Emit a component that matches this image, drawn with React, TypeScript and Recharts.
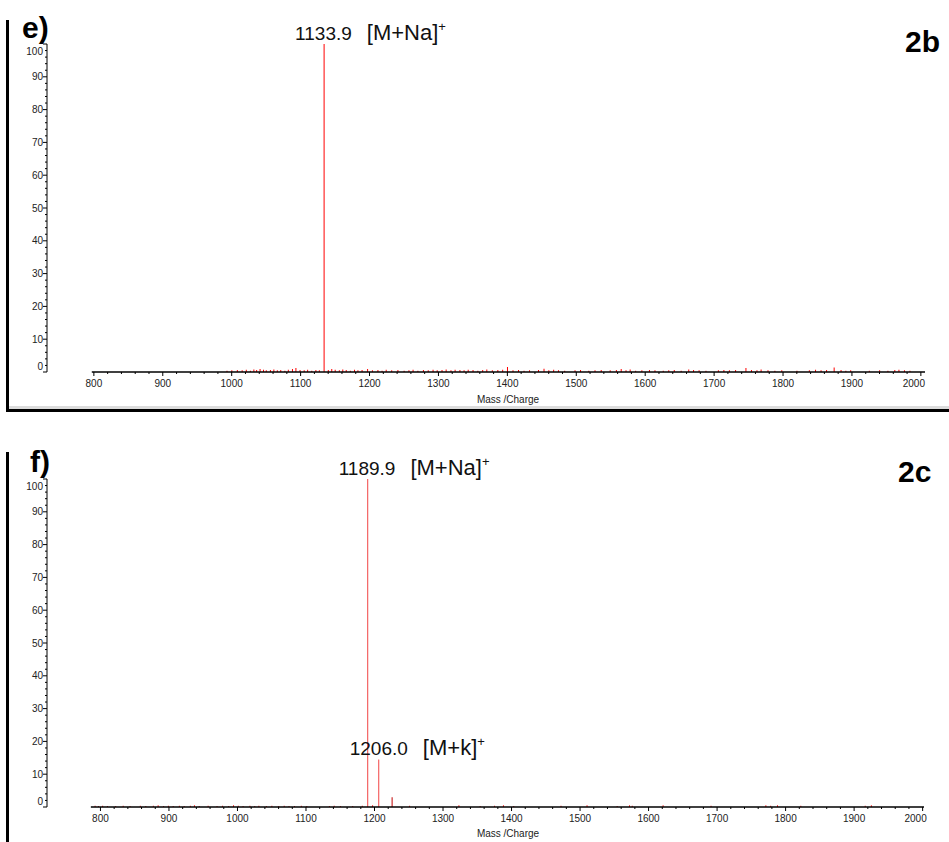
import React from 'react'
import { Bar, BarChart, Cell, LabelList, ReferenceLine, XAxis, YAxis } from 'recharts'

// panel e) compound 2b
const noiseMassE = [
  993, 1000, 1008, 1015, 1021, 1027, 1032, 1036, 1041, 1046, 1050, 1056, 1061, 1066, 1071, 1077, 1082, 1088, 1093, 1099,
  1105, 1110, 1116, 1122, 1127, 1140, 1145, 1150, 1156, 1161, 1166, 1172, 1178, 1183, 1189, 1197, 1204, 1212, 1218, 1224,
  1232, 1241, 1250, 1257, 1263, 1270, 1278, 1285, 1292, 1298, 1305, 1311, 1318, 1324, 1331, 1337, 1343, 1350, 1357, 1364,
  1370, 1378, 1386, 1393, 1400, 1408, 1416, 1424, 1432, 1445, 1453, 1460, 1467, 1474, 1483, 1498, 1506, 1518, 1527, 1536,
  1549, 1558, 1565, 1572, 1578, 1586, 1595, 1606, 1614, 1626, 1634, 1642, 1652, 1663, 1670, 1678, 1688, 1706, 1714, 1722,
  1731, 1746, 1754, 1762, 1768, 1778, 1788, 1798, 1820, 1838, 1847, 1855, 1863, 1874, 1884, 1891, 1898, 1925, 1940, 1952,
  1962, 1968, 1976, 1984,
]
const noiseIntE = [
  0.4, 0.5, 0.6, 0.5, 0.7, 0.4, 0.8, 0.6, 0.9, 0.7, 0.5, 0.6, 0.8, 0.5, 0.6, 0.4, 0.7, 0.9, 1.2, 0.6,
  0.5, 0.7, 0.4, 0.6, 0.5, 0.6, 0.9, 0.7, 0.5, 0.8, 0.6, 0.4, 0.7, 0.5, 0.6, 0.9, 0.5, 0.6, 0.4, 0.7,
  0.5, 0.6, 0.4, 0.5, 0.7, 0.4, 0.6, 0.5, 0.7, 0.5, 0.6, 0.8, 0.5, 0.7, 0.6, 0.5, 0.7, 0.6, 0.4, 0.6,
  0.8, 0.5, 0.6, 0.7, 1.5, 0.5, 0.6, 0.4, 0.5, 0.6, 1.0, 0.5, 0.7, 0.5, 0.4, 0.5, 0.6, 0.4, 0.5, 0.6,
  0.5, 0.6, 0.9, 0.5, 0.8, 0.4, 0.5, 0.6, 0.5, 0.4, 0.5, 0.6, 0.4, 0.8, 0.6, 0.5, 0.4, 0.5, 0.6, 0.5,
  0.6, 1.2, 0.6, 0.5, 0.8, 0.5, 0.4, 0.5, 0.4, 0.5, 0.7, 0.5, 0.6, 1.4, 0.6, 0.4, 0.5, 0.4, 0.5, 0.4,
  0.6, 0.7, 0.5, 0.4,
]
const peakMassE = [1133.9]
const peakIntE = [100]
const peakIonE = ['[M+Na]']

// panel f) compound 2c
const noiseMassF = [
  792, 797, 803, 810, 822, 833, 843, 858, 866, 877, 884, 892, 899, 906, 915, 922, 931, 937, 944, 957,
  970, 978, 987, 994, 1001, 1008, 1018, 1025, 1031, 1042, 1050, 1060, 1068, 1075, 1083, 1093, 1101, 1134, 1141, 1150,
  1168, 1182, 1197, 1251, 1323, 1354, 1375, 1388, 1403, 1472, 1510, 1554, 1572, 1576, 1621, 1691, 1771, 1778, 1788, 1822,
  1916, 1925,
]
const noiseIntF = [
  0.4, 0.3, 0.4, 0.3, 0.3, 0.4, 0.3, 0.4, 0.3, 0.4, 0.5, 0.3, 0.4, 0.3, 0.4, 0.3, 0.4, 0.5, 0.3, 0.4,
  0.3, 0.4, 0.3, 0.5, 0.4, 0.3, 0.4, 0.3, 0.4, 0.3, 0.4, 0.3, 0.4, 0.3, 0.3, 0.4, 0.3, 0.3, 0.4, 0.3,
  0.3, 0.4, 0.5, 0.4, 0.5, 0.3, 0.4, 0.5, 0.3, 0.4, 0.5, 0.3, 0.5, 0.4, 0.5, 0.4, 0.5, 0.4, 0.5, 0.4,
  0.4, 0.5,
]
const peakMassF = [1189.9, 1206.0, 1225.5]
const peakIntF = [100, 14.5, 3]
const peakIonF = ['[M+Na]', '[M+k]', '']

const xMajorTicks = [800, 900, 1000, 1100, 1200, 1300, 1400, 1500, 1600, 1700, 1800, 1900, 2000]
const yMajorTicks = [0, 10, 20, 30, 40, 50, 60, 70, 80, 90, 100]

const minorOf = (major: number[], parts: number) => {
  const out: number[] = []
  major.forEach((m, i) => {
    out.push(m)
    if (i < major.length - 1) {
      const step = (major[i + 1] - m) / parts
      for (let k = 1; k < parts; k++) out.push(m + k * step)
    }
  })
  return out
}
const xTicks = minorOf(xMajorTicks, 5)
const yTicks = minorOf(yMajorTicks, 5)

type Pt = { mz: number; intensity: number; tag: string; color: string }

function buildData(nm: number[], ni: number[], pm: number[], pi: number[], ions: string[], noiseColor: string, peakColor: string) {
  const pts: Pt[] = nm.map((m, i) => ({ mz: m, intensity: ni[i], tag: '', color: noiseColor }))
  pm.forEach((m, i) => {
    pts.push({ mz: m, intensity: pi[i], tag: ions[i] ? `${m.toFixed(1)}|${ions[i]}` : '', color: i === 2 ? '#c00000' : peakColor })
  })
  return pts.sort((a, b) => a.mz - b.mz)
}

const dataE = buildData(noiseMassE, noiseIntE, peakMassE, peakIntE, peakIonE, '#ff0000', '#ff0000')
const dataF = buildData(noiseMassF, noiseIntF, peakMassF, peakIntF, peakIonF, '#ff1a1a', '#f24444')

const FONT = 'Arial, "Liberation Sans", sans-serif'

function XTick(props: any) {
  const { x, y, payload } = props
  const v = payload.value
  const major = v % 100 === 0
  return (
    <g>
      <line x1={x} x2={x} y1={y} y2={y + (major ? 4 : 2)} stroke="#000" strokeWidth={1} />
      {major && (
        <text x={x + (v === 2000 ? -7 : 0)} y={y + 14.5} textAnchor="middle" fontSize={10} fontFamily={FONT} fill="#222">
          {v}
        </text>
      )}
    </g>
  )
}

function YTick(props: any) {
  const { x, y, payload } = props
  const v = payload.value
  const major = v % 10 === 0
  const shift = v === 100 ? 7 : v === 0 ? -6 : 0
  return (
    <g>
      <line x1={x} x2={x - (major ? 4 : 2)} y1={y} y2={y} stroke="#000" strokeWidth={1} />
      {major && (
        <text x={x - 4} y={y + shift + 3.5} textAnchor="end" fontSize={10} fontFamily={FONT} fill="#222">
          {v}
        </text>
      )}
    </g>
  )
}

function PeakLabel(props: any) {
  const vb = props.viewBox || props
  const value = props.value as string
  if (!value) return null
  const [num, ion] = value.split('|')
  const px = vb.x + vb.width / 2
  return (
    <text x={px - 29} y={vb.y - 4} fontFamily={FONT} fill="#111">
      <tspan fontSize={19}>{num}</tspan>
      <tspan dx={15} fontSize={22}>{ion}</tspan>
      <tspan dy={-9} fontSize={13}>+</tspan>
    </text>
  )
}

function Spectrum({ data, height, top, right, xDomain, axisStart, axisEnd }: any) {
  return (
    <BarChart width={949} height={height} data={data} margin={{ top, right, bottom: 0, left: 0 }}>
      <XAxis
        dataKey="mz"
        type="number"
        domain={xDomain}
        ticks={xTicks}
        interval={0}
        axisLine={false}
        tickLine={false}
        tickSize={0}
        tickMargin={0}
        tick={<XTick />}
        height={height - top - 328}
        allowDataOverflow
      />
      <YAxis
        type="number"
        domain={[0, 100]}
        ticks={yTicks}
        interval={0}
        width={47}
        axisLine={{ stroke: '#000', strokeWidth: 1 }}
        tickLine={false}
        tickSize={0}
        tickMargin={0}
        tick={<YTick />}
        allowDataOverflow
      />
      <ReferenceLine
        segment={[{ x: axisStart, y: 0 }, { x: axisEnd, y: 0 }]}
        stroke="#000"
        strokeWidth={1.5}
        ifOverflow="visible"
      />
      <Bar dataKey="intensity" barSize={1} isAnimationActive={false}>
        {data.map((d: Pt, i: number) => (
          <Cell key={i} fill={d.color} />
        ))}
        <LabelList dataKey="tag" content={<PeakLabel />} />
      </Bar>
    </BarChart>
  )
}

export default function App() {
  return (
    <div style={{ position: 'absolute', left: 0, top: 0, width: 949, height: 842, background: '#fff', overflow: 'hidden' }}>
      <div style={{ position: 'absolute', left: 0, top: 0 }}>
        <Spectrum data={dataE} height={420} top={44} right={24} xDomain={[732, 2006]} axisStart={797} axisEnd={2006} />
      </div>
      <div style={{ position: 'absolute', left: 0, top: 420 }}>
        <Spectrum data={dataF} height={422} top={59} right={25} xDomain={[722, 2002]} axisStart={786} axisEnd={2002} />
      </div>
      <svg width={949} height={842} style={{ position: 'absolute', left: 0, top: 0, pointerEvents: 'none' }}>
        <rect x={6} y={20} width={3} height={392} fill="#000" />
        <rect x={9} y={406} width={940} height={3} fill="#dcdcdc" />
        <rect x={6} y={409} width={943} height={3} fill="#000" />
        <rect x={6} y={452} width={3} height={390} fill="#000" />
        <text x={22} y={38} fontSize={30} fontWeight="bold" fontFamily={FONT} fill="#000">e)</text>
        <text x={30} y={472} fontSize={30} fontWeight="bold" fontFamily={FONT} fill="#000">f)</text>
        <text x={905} y={52} fontSize={30} fontWeight="bold" fontFamily={FONT} fill="#000">2b</text>
        <text x={898} y={482} fontSize={30} fontWeight="bold" fontFamily={FONT} fill="#000">2c</text>
        <text x={508} y={403} fontSize={10} textAnchor="middle" fontFamily={FONT} fill="#222">Mass /Charge</text>
        <text x={508} y={837} fontSize={10} textAnchor="middle" fontFamily={FONT} fill="#222">Mass /Charge</text>
      </svg>
    </div>
  )
}
